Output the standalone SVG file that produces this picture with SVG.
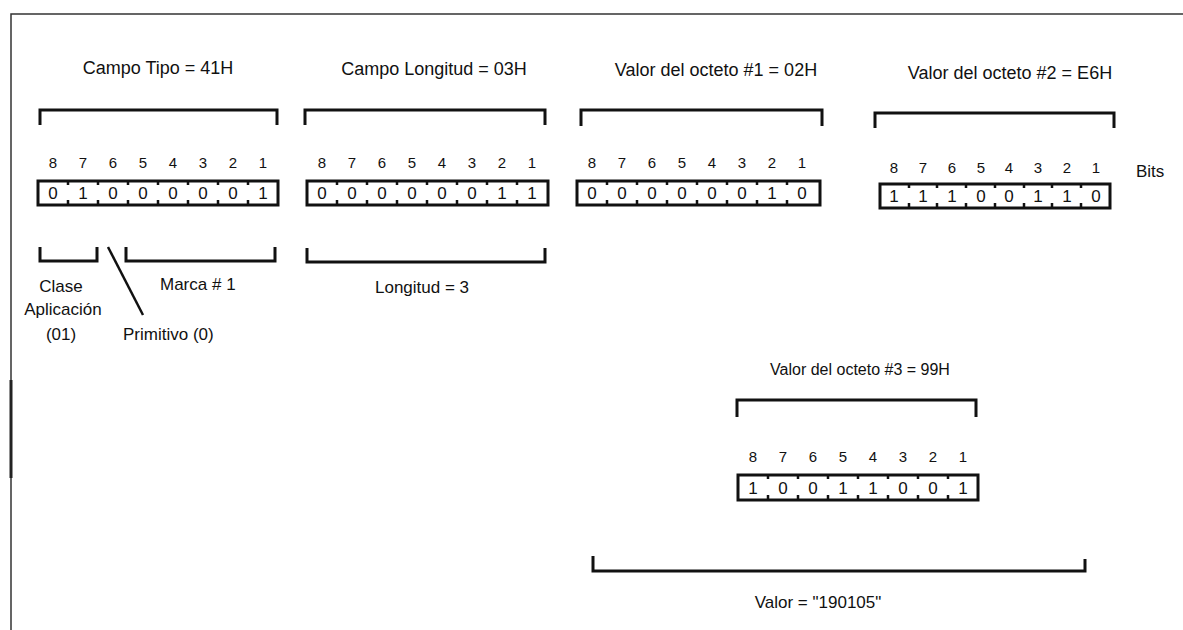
<svg xmlns="http://www.w3.org/2000/svg" width="1183" height="630" viewBox="0 0 1183 630">
  <style>
    text { font-family: "Liberation Sans", Arial, sans-serif; fill: #111; }
    .title { font-size: 18px; text-anchor: middle; }
    .title-sm { font-size: 16px; text-anchor: middle; }
    .label { font-size: 17px; }
    .bitno { font-size: 15px; text-anchor: middle; }
    .digit { font-size: 17px; text-anchor: middle; }
    .bracket { fill: none; stroke: #111; stroke-width: 3; stroke-linejoin: miter; }
    .box { fill: #fff; stroke: #111; stroke-width: 3; }
    .tick { stroke: #111; stroke-width: 2.5; }
    .frame { fill: none; stroke: #333; stroke-width: 1.5; }
  </style>

  <!-- page frame -->
  <path class="frame" d="M11,630 V14 H1183"/>
  <line x1="11" y1="380" x2="11" y2="478" stroke="#222" stroke-width="3"/>

  <!-- Octet 1: type field -->
  <g id="campo-tipo">
    <text class="title" x="158" y="74">Campo Tipo = 41H</text>
    <path class="bracket" d="M40,125 V110 H277 V125"/>
    <g class="bitno">
      <text x="53" y="168">8</text><text x="83" y="168">7</text><text x="113" y="168">6</text><text x="143" y="168">5</text>
      <text x="173" y="168">4</text><text x="203" y="168">3</text><text x="233" y="168">2</text><text x="263" y="168">1</text>
    </g>
    <rect class="box" x="38" y="181" width="240" height="24"/>
    <path class="tick" d="M68,181 v4 M98,181 v4 M128,181 v4 M158,181 v4 M188,181 v4 M218,181 v4 M248,181 v4 M68,205 v-5 M98,205 v-5 M128,205 v-5 M158,205 v-5 M188,205 v-5 M218,205 v-5 M248,205 v-5"/>
    <g class="digit">
      <text x="53" y="199">0</text><text x="83" y="199">1</text><text x="113" y="199">0</text><text x="143" y="199">0</text>
      <text x="173" y="199">0</text><text x="203" y="199">0</text><text x="233" y="199">0</text><text x="263" y="199">1</text>
    </g>
  </g>

  <!-- sub-fields of the type octet -->
  <g id="clase">
    <path class="bracket" d="M40,247 V261 H97 V247"/>
    <text class="label" x="61" y="292" text-anchor="middle">Clase</text>
    <text class="label" x="63" y="315" text-anchor="middle">Aplicación</text>
    <text class="label" x="61" y="340" text-anchor="middle">(01)</text>
  </g>
  <g id="marca">
    <path class="bracket" d="M126,247 V261 H275 V247"/>
    <text class="label" x="160" y="290">Marca # 1</text>
  </g>
  <g id="primitivo">
    <line x1="108" y1="247" x2="143" y2="315" stroke="#111" stroke-width="2.5"/>
    <text class="label" x="123" y="340">Primitivo (0)</text>
  </g>

  <!-- Octet 2: length field -->
  <g id="campo-longitud">
    <text class="title" x="434" y="75">Campo Longitud  = 03H</text>
    <path class="bracket" d="M305,125 V110 H545 V125"/>
    <g class="bitno">
      <text x="322" y="168">8</text><text x="352" y="168">7</text><text x="382" y="168">6</text><text x="412" y="168">5</text>
      <text x="442" y="168">4</text><text x="472" y="168">3</text><text x="502" y="168">2</text><text x="532" y="168">1</text>
    </g>
    <rect class="box" x="307" y="181" width="241" height="24"/>
    <path class="tick" d="M337,181 v4 M367,181 v4 M397,181 v4 M427,181 v4 M457,181 v4 M487,181 v4 M517,181 v4 M337,205 v-5 M367,205 v-5 M397,205 v-5 M427,205 v-5 M457,205 v-5 M487,205 v-5 M517,205 v-5"/>
    <g class="digit">
      <text x="322" y="199">0</text><text x="352" y="199">0</text><text x="382" y="199">0</text><text x="412" y="199">0</text>
      <text x="442" y="199">0</text><text x="472" y="199">0</text><text x="502" y="199">1</text><text x="532" y="199">1</text>
    </g>
  </g>
  <g id="longitud">
    <path class="bracket" d="M307,248 V262 H545 V248"/>
    <text class="label" x="375" y="293">Longitud = 3</text>
  </g>

  <!-- Octet 3: value #1 -->
  <g id="octeto-1">
    <text class="title" x="716" y="76">Valor del octeto #1  = 02H</text>
    <path class="bracket" d="M581,126 V110 H822 V126"/>
    <g class="bitno">
      <text x="592" y="168">8</text><text x="622" y="168">7</text><text x="652" y="168">6</text><text x="682" y="168">5</text>
      <text x="712" y="168">4</text><text x="742" y="168">3</text><text x="772" y="168">2</text><text x="802" y="168">1</text>
    </g>
    <rect class="box" x="577" y="181" width="243" height="24"/>
    <path class="tick" d="M607,181 v4 M637,181 v4 M667,181 v4 M697,181 v4 M727,181 v4 M757,181 v4 M787,181 v4 M607,205 v-5 M637,205 v-5 M667,205 v-5 M697,205 v-5 M727,205 v-5 M757,205 v-5 M787,205 v-5"/>
    <g class="digit">
      <text x="592" y="199">0</text><text x="622" y="199">0</text><text x="652" y="199">0</text><text x="682" y="199">0</text>
      <text x="712" y="199">0</text><text x="742" y="199">0</text><text x="772" y="199">1</text><text x="802" y="199">0</text>
    </g>
  </g>

  <!-- Octet 4: value #2 -->
  <g id="octeto-2">
    <text class="title" x="1010" y="79">Valor del octeto #2  = E6H</text>
    <path class="bracket" d="M875,128 V113 H1114 V128"/>
    <g class="bitno">
      <text x="894" y="173">8</text><text x="923" y="173">7</text><text x="952" y="173">6</text><text x="981" y="173">5</text>
      <text x="1009" y="173">4</text><text x="1038" y="173">3</text><text x="1067" y="173">2</text><text x="1096" y="173">1</text>
    </g>
    <text class="label" x="1136" y="177">Bits</text>
    <rect class="box" x="880" y="184" width="230" height="24"/>
    <path class="tick" d="M909,184 v4 M937,184 v4 M966,184 v4 M995,184 v4 M1024,184 v4 M1052,184 v4 M1081,184 v4 M909,208 v-5 M937,208 v-5 M966,208 v-5 M995,208 v-5 M1024,208 v-5 M1052,208 v-5 M1081,208 v-5"/>
    <g class="digit">
      <text x="894" y="202">1</text><text x="923" y="202">1</text><text x="952" y="202">1</text><text x="981" y="202">0</text>
      <text x="1009" y="202">0</text><text x="1038" y="202">1</text><text x="1067" y="202">1</text><text x="1096" y="202">0</text>
    </g>
  </g>

  <!-- Octet 5: value #3 -->
  <g id="octeto-3">
    <text class="title-sm" x="860" y="375">Valor del octeto #3  = 99H</text>
    <path class="bracket" d="M737,417 V400 H976 V417"/>
    <g class="bitno">
      <text x="753" y="462">8</text><text x="783" y="462">7</text><text x="813" y="462">6</text><text x="843" y="462">5</text>
      <text x="873" y="462">4</text><text x="903" y="462">3</text><text x="933" y="462">2</text><text x="963" y="462">1</text>
    </g>
    <rect class="box" x="738" y="475" width="240" height="25"/>
    <path class="tick" d="M768,475 v4 M798,475 v4 M828,475 v4 M858,475 v4 M888,475 v4 M918,475 v4 M948,475 v4 M768,500 v-5 M798,500 v-5 M828,500 v-5 M858,500 v-5 M888,500 v-5 M918,500 v-5 M948,500 v-5"/>
    <g class="digit">
      <text x="753" y="494">1</text><text x="783" y="494">0</text><text x="813" y="494">0</text><text x="843" y="494">1</text>
      <text x="873" y="494">1</text><text x="903" y="494">0</text><text x="933" y="494">0</text><text x="963" y="494">1</text>
    </g>
  </g>

  <!-- overall value span -->
  <g id="valor">
    <path class="bracket" d="M593,556 V571 H1085 V559"/>
    <text class="label" x="818" y="608" text-anchor="middle">Valor = "190105"</text>
  </g>
</svg>
